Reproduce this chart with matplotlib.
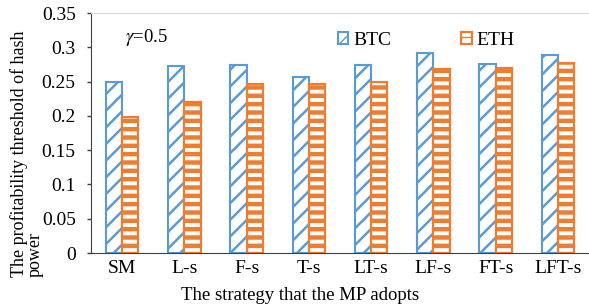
import matplotlib
matplotlib.use("Agg")
import matplotlib.pyplot as plt
import numpy as np

categories = ["SM", "L-s", "F-s", "T-s", "LT-s", "LF-s", "FT-s", "LFT-s"]
btc = [0.250, 0.272, 0.274, 0.257, 0.274, 0.292, 0.276, 0.289]
eth = [0.198, 0.220, 0.246, 0.246, 0.249, 0.268, 0.270, 0.277]
yticks = [0, 0.05, 0.1, 0.15, 0.2, 0.25, 0.3, 0.35]
ytick_labels = ["0", "0.05", "0.1", "0.15", "0.2", "0.25", "0.3", "0.35"]

plt.rcParams['font.family'] = ['Liberation Serif', 'DejaVu Serif']
plt.rcParams['mathtext.fontset'] = 'stix'

blue = '#5B9BD5'
orange = '#ED7D31'

fig = plt.figure(figsize=(5.89, 3.05), dpi=100)
ax = fig.add_axes([91/589, 1-253/305, 498/589, 240/305])

x = np.arange(len(categories))
w = 0.26
with plt.rc_context({'hatch.linewidth': 1.8}):
    b1 = ax.bar(x - w/2, btc, w, facecolor='white', edgecolor=blue, hatch='//', linewidth=1.5, label='BTC')
with plt.rc_context({'hatch.linewidth': 3.2}):
    b2 = ax.bar(x + w/2, eth, w, facecolor='white', edgecolor=orange, hatch='--', linewidth=1.6, label='ETH')
for p in b1:
    if hasattr(p, 'set_hatch_linewidth'):
        p.set_hatch_linewidth(1.8)
for p in b2:
    if hasattr(p, 'set_hatch_linewidth'):
        p.set_hatch_linewidth(3.2)

ax.set_xlim(-0.5, len(categories) - 0.5)
ax.set_ylim(0, 0.35)
ax.set_yticks(yticks)
ax.set_yticklabels(ytick_labels, fontsize=14)
ax.set_xticks(x)
ax.set_xticklabels(categories, fontsize=14)
ax.tick_params(axis='x', length=0, pad=5)
ax.tick_params(axis='y', direction='out', length=3, width=1, color='#404040', pad=8)

ax.spines['right'].set_visible(False)
ax.spines['top'].set_color('#d9d9d9')
ax.spines['left'].set_color('#404040')
ax.spines['bottom'].set_color('#404040')

ax.text(0.069, 0.896, r'$\gamma$=0.5', transform=ax.transAxes, fontsize=13.5, va='center', ha='left')

leg = ax.legend(loc='center', bbox_to_anchor=(0.673, 0.885), ncol=2, frameon=False, fontsize=14,
          handlelength=0.55, handleheight=0.55, columnspacing=3.6, handletextpad=0.25)

fig.text(27/589, 1-154/305, "The profitability threshold of hash\npower", rotation=90,
         fontsize=13, ha='center', va='center', multialignment='left', linespacing=0.9)
fig.text(300/589, 1-295/305, "The strategy that the MP adopts", fontsize=13.5, ha='center', va='center')

fig.savefig("out.png", dpi=100)
